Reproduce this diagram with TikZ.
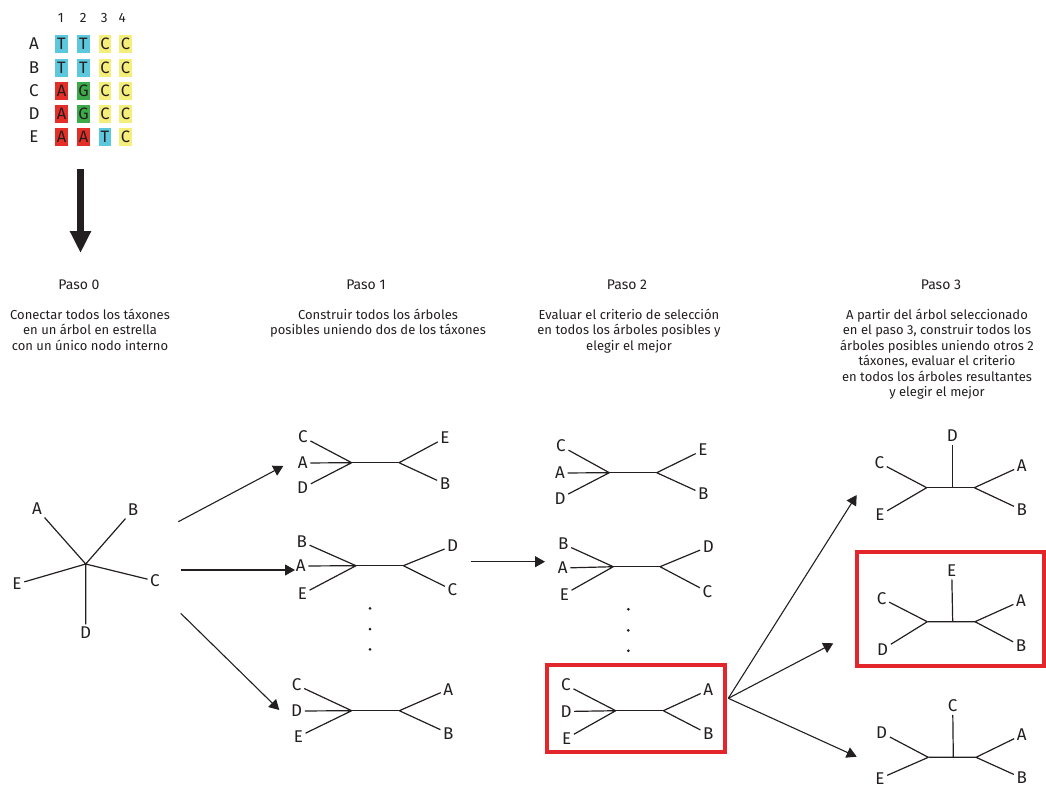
\documentclass[tikz,border=0pt]{standalone}
\usepackage{fontspec}
\setmainfont{Fira Sans}
\usepackage{tikz}
\usetikzlibrary{arrows.meta}
\definecolor{inkgray}{HTML}{231F20}
\definecolor{seqblue}{HTML}{5BC8DD}
\definecolor{seqyellow}{HTML}{F6EE7A}
\definecolor{seqred}{HTML}{E52E28}
\definecolor{seqgreen}{HTML}{3DAA4A}
\definecolor{pickred}{HTML}{E3262C}

\begin{document}
\begin{tikzpicture}[x=1pt, y=-1pt, every node/.style={text=inkgray},
  taxon/.style={font=\fontsize{17}{17}\selectfont, inner sep=2.5pt},
  cell/.style={font=\fontsize{16.5}{16.5}\selectfont, minimum width=12.5pt, minimum height=17.5pt, inner sep=0pt},
  colnum/.style={font=\fontsize{13.5}{13.5}\selectfont, inner sep=0pt},
  steptitle/.style={font=\fontsize{14}{14}\selectfont, inner sep=0pt},
  stepdesc/.style={font=\fontsize{13}{15.5}\selectfont, align=center, anchor=north, inner sep=0pt},
  branch/.style={draw=inkgray, line width=1.2pt},
  flow/.style={draw=inkgray, line width=1.1pt, -{Triangle[length=10pt,width=11pt]}},
  pick/.style={draw=pickred, line width=4pt, inner sep=0pt}]

\useasboundingbox (0,0) rectangle (1046,787);

% alignment
\node[colnum] (n1) at (60.7,18) {1};
\node[colnum] (n2) at (83.3,18) {2};
\node[colnum] (n3) at (104.3,18) {3};
\node[colnum] (n4) at (122.3,18) {4};
\node[taxon] (rA) at (34,44) {A};
\node[taxon] (rB) at (34,68) {B};
\node[taxon] (rC) at (34,91) {C};
\node[taxon] (rD) at (34,114) {D};
\node[taxon] (rE) at (34,137) {E};
\node[cell, fill=seqblue] (a1) at (61.5,44) {T};
\node[cell, fill=seqblue] (a2) at (83.5,44) {T};
\node[cell, fill=seqyellow] (a3) at (105,44) {C};
\node[cell, fill=seqyellow] (a4) at (125.5,44) {C};
\node[cell, fill=seqblue] (b1) at (61.5,68) {T};
\node[cell, fill=seqblue] (b2) at (83.5,68) {T};
\node[cell, fill=seqyellow] (b3) at (105,68) {C};
\node[cell, fill=seqyellow] (b4) at (125.5,68) {C};
\node[cell, fill=seqred] (c1) at (61.5,91) {A};
\node[cell, fill=seqgreen] (c2) at (83.5,91) {G};
\node[cell, fill=seqyellow] (c3) at (105,91) {C};
\node[cell, fill=seqyellow] (c4) at (125.5,91) {C};
\node[cell, fill=seqred] (d1) at (61.5,114) {A};
\node[cell, fill=seqgreen] (d2) at (83.5,114) {G};
\node[cell, fill=seqyellow] (d3) at (105,114) {C};
\node[cell, fill=seqyellow] (d4) at (125.5,114) {C};
\node[cell, fill=seqred] (e1) at (61.5,137) {A};
\node[cell, fill=seqred] (e2) at (83.5,137) {A};
\node[cell, fill=seqblue] (e3) at (105,137) {T};
\node[cell, fill=seqyellow] (e4) at (125.5,137) {C};

\coordinate (bigtop) at (80.5,169);
\coordinate (bigtip) at (80.5,253);
\draw[draw=inkgray, fill=inkgray, line width=6.5pt, -{Triangle[length=22pt,width=20pt]}] (bigtop) -- (bigtip);

% headings
\node[steptitle] (h0) at (79,285) {Paso 0};
\node[steptitle] (h1) at (366,285) {Paso 1};
\node[steptitle] (h2) at (627,285) {Paso 2};
\node[steptitle] (h3) at (941,285) {Paso 3};
\node[stepdesc] (d0) at (90,308.5) {Conectar todos los táxones\\en un árbol en estrella\\con un único nodo interno};
\node[stepdesc] (d1) at (378,308.5) {Construir todos los árboles\\posibles uniendo dos de los táxones};
\node[stepdesc] (d2) at (629,308.5) {Evaluar el criterio de selección\\en todos los árboles posibles y\\elegir el mejor};
\node[stepdesc] (d3) at (937,308.5) {A partir del árbol seleccionado\\en el paso 3, construir todos los\\árboles posibles uniendo otros 2\\táxones, evaluar el criterio\\en todos los árboles resultantes\\y elegir el mejor};

% paso 0: star tree
\coordinate (hub) at (85.7,564);
\node[taxon] (sA) at (37,509) {A};
\node[taxon] (sB) at (133,510) {B};
\node[taxon] (sC) at (155,581) {C};
\node[taxon] (sD) at (85.7,633) {D};
\node[taxon] (sE) at (17,584) {E};
\draw[branch] (hub) -- (sA) (hub) -- (sB) (hub) -- (sC) (hub) -- (sD) (hub) -- (sE);

% paso 1
\coordinate (t1aL) at (351.7,462.7);
\coordinate (t1aR) at (399,462.7);
\node[taxon] (t1aC) at (303,437) {C};
\node[taxon] (t1aA) at (302.7,463) {A};
\node[taxon] (t1aD) at (302.7,488) {D};
\node[taxon] (t1aE) at (445,438) {E};
\node[taxon] (t1aB) at (445,484) {B};
\draw[branch] (t1aL) -- (t1aR);
\draw[branch] (t1aL) -- (t1aC) (t1aL) -- (t1aA) (t1aL) -- (t1aD) (t1aR) -- (t1aE) (t1aR) -- (t1aB);

\coordinate (t1bL) at (356,565.7);
\coordinate (t1bR) at (403.3,565.7);
\node[taxon] (t1bB) at (301.7,541.7) {B};
\node[taxon] (t1bA) at (300.7,566) {A};
\node[taxon] (t1bE) at (302.3,594) {E};
\node[taxon] (t1bD) at (452.7,545.7) {D};
\node[taxon] (t1bC) at (452.3,590) {C};
\draw[branch] (t1bL) -- (t1bR);
\draw[branch] (t1bL) -- (t1bB) (t1bL) -- (t1bA) (t1bL) -- (t1bE) (t1bR) -- (t1bD) (t1bR) -- (t1bC);

\fill[inkgray] (370,608.3) circle (1.5pt) (370,629) circle (1.5pt) (370,649.3) circle (1.5pt);

\coordinate (t1cL) at (351.7,710.7);
\coordinate (t1cR) at (399.3,710.7);
\node[taxon] (t1cC) at (296.7,685) {C};
\node[taxon] (t1cD) at (296.7,711) {D};
\node[taxon] (t1cE) at (298.3,736.7) {E};
\node[taxon] (t1cA) at (448.3,689.3) {A};
\node[taxon] (t1cB) at (448.3,733.3) {B};
\draw[branch] (t1cL) -- (t1cR);
\draw[branch] (t1cL) -- (t1cC) (t1cL) -- (t1cD) (t1cL) -- (t1cE) (t1cR) -- (t1cA) (t1cR) -- (t1cB);

% paso 2
\coordinate (t2aL) at (609.3,472.7);
\coordinate (t2aR) at (656.7,472.7);
\node[taxon] (t2aC) at (561,446) {C};
\node[taxon] (t2aA) at (560,473) {A};
\node[taxon] (t2aD) at (560,498.3) {D};
\node[taxon] (t2aE) at (703,450) {E};
\node[taxon] (t2aB) at (703.3,494) {B};
\draw[branch] (t2aL) -- (t2aR);
\draw[branch] (t2aL) -- (t2aC) (t2aL) -- (t2aA) (t2aL) -- (t2aD) (t2aR) -- (t2aE) (t2aR) -- (t2aB);

\coordinate (t2bL) at (613.3,566.7);
\coordinate (t2bR) at (660,566.7);
\node[taxon] (t2bB) at (563.3,544) {B};
\node[taxon] (t2bA) at (562.7,568) {A};
\node[taxon] (t2bE) at (564.3,594.3) {E};
\node[taxon] (t2bD) at (708.3,546.7) {D};
\node[taxon] (t2bC) at (707.3,591.7) {C};
\draw[branch] (t2bL) -- (t2bR);
\draw[branch] (t2bL) -- (t2bB) (t2bL) -- (t2bA) (t2bL) -- (t2bE) (t2bR) -- (t2bD) (t2bR) -- (t2bC);

\fill[inkgray] (628.3,609.3) circle (1.5pt) (628.3,630.3) circle (1.5pt) (628.3,650.7) circle (1.5pt);

\coordinate (t2cL) at (615.7,710.7);
\coordinate (t2cR) at (663.3,710.7);
\node[taxon] (t2cC) at (566,685) {C};
\node[taxon] (t2cD) at (566,711.5) {D};
\node[taxon] (t2cE) at (566.7,738.3) {E};
\node[taxon] (t2cA) at (708.3,690) {A};
\node[taxon] (t2cB) at (708.3,734) {B};
\draw[branch] (t2cL) -- (t2cR);
\draw[branch] (t2cL) -- (t2cC) (t2cL) -- (t2cD) (t2cL) -- (t2cE) (t2cR) -- (t2cA) (t2cR) -- (t2cB);
\node[pick, minimum width=178pt, minimum height=87pt] (best2) at (636,708.5) {};

% paso 3
\coordinate (t3aL) at (926.7,487.7);
\coordinate (t3aM) at (952.3,487.7);
\coordinate (t3aR) at (974.3,487.7);
\node[taxon] (t3aD) at (952.3,436) {D};
\node[taxon] (t3aC) at (879.3,462.7) {C};
\node[taxon] (t3aE) at (880,515) {E};
\node[taxon] (t3aA) at (1021.7,466) {A};
\node[taxon] (t3aB) at (1021.7,510) {B};
\draw[branch] (t3aL) -- (t3aR) (t3aM) -- (t3aD);
\draw[branch] (t3aL) -- (t3aC) (t3aL) -- (t3aE) (t3aR) -- (t3aA) (t3aR) -- (t3aB);

\coordinate (t3bL) at (927.3,621.7);
\coordinate (t3bM) at (952.7,621.7);
\coordinate (t3bR) at (975,621.7);
\node[taxon] (t3bE) at (951.7,570.7) {E};
\node[taxon] (t3bC) at (881.7,598.3) {C};
\node[taxon] (t3bD) at (882.7,649.3) {D};
\node[taxon] (t3bA) at (1021,601) {A};
\node[taxon] (t3bB) at (1021,646) {B};
\draw[branch] (t3bL) -- (t3bR) (t3bM) -- (t3bE);
\draw[branch] (t3bL) -- (t3bC) (t3bL) -- (t3bD) (t3bR) -- (t3bA) (t3bR) -- (t3bB);
\node[pick, minimum width=187pt, minimum height=114.5pt] (best3) at (950.5,608.75) {};

\coordinate (t3cL) at (928.3,757.3);
\coordinate (t3cM) at (953.3,757.3);
\coordinate (t3cR) at (976,757.3);
\node[taxon] (t3cC) at (952.7,706) {C};
\node[taxon] (t3cD) at (881.7,732.7) {D};
\node[taxon] (t3cE) at (880,778.5) {E};
\node[taxon] (t3cA) at (1021.7,735) {A};
\node[taxon] (t3cB) at (1021.7,778) {B};
\draw[branch] (t3cL) -- (t3cR) (t3cM) -- (t3cC);
\draw[branch] (t3cL) -- (t3cD) (t3cL) -- (t3cE) (t3cR) -- (t3cA) (t3cR) -- (t3cB);

% flow arrows
\coordinate (out0a) at (178.3,521.7);
\coordinate (out0b) at (180.7,570);
\coordinate (out0c) at (180.7,613.3);
\coordinate (in1a) at (283.3,466);
\coordinate (in1b) at (295,570);
\coordinate (in1c) at (279.3,710);
\draw[flow] (out0a) -- (in1a);
\draw[flow] (out0b) -- (in1b);
\draw[flow] (out0c) -- (in1c);
\coordinate (out1) at (470.7,561.7);
\coordinate (in2) at (545,561.7);
\draw[flow] (out1) -- (in2);
\coordinate (fork) at (728.3,698.3);
\coordinate (in3a) at (856.7,495);
\coordinate (in3b) at (833.3,643.3);
\coordinate (in3c) at (856.7,756.7);
\draw[flow] (fork) -- (in3a);
\draw[flow] (fork) -- (in3b);
\draw[flow] (fork) -- (in3c);
\end{tikzpicture}
\end{document}
